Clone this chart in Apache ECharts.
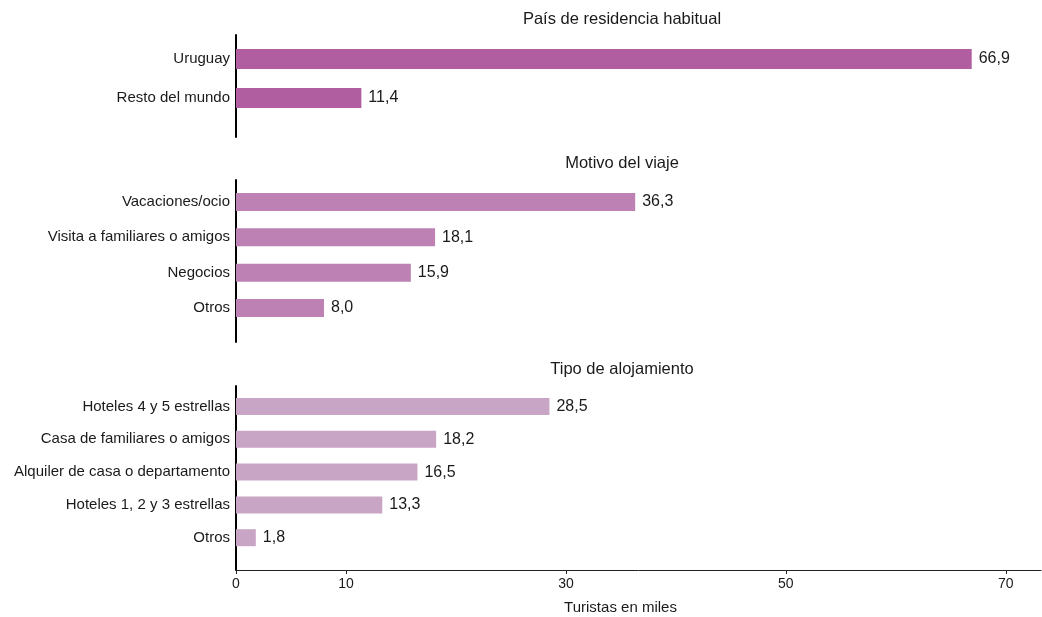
<!DOCTYPE html>
<html>
<head>
<meta charset="utf-8">
<script src="https://cdn.jsdelivr.net/npm/echarts@6/dist/echarts.min.js"></script>
<style>
html,body{margin:0;padding:0;background:#fff;}
#chart{width:1042px;height:617px;}
</style>
</head>
<body>
<div id="chart"></div>
<script>
// ---- Data ----
const titles = ["País de residencia habitual", "Motivo del viaje", "Tipo de alojamiento"];
const catsPais = ["Uruguay", "Resto del mundo"];
const valsPais = [66.9, 11.4];
const catsMotivo = ["Vacaciones/ocio", "Visita a familiares o amigos", "Negocios", "Otros"];
const valsMotivo = [36.3, 18.1, 15.9, 8.0];
const catsAloj = ["Hoteles 4 y 5 estrellas", "Casa de familiares o amigos", "Alquiler de casa o departamento", "Hoteles 1, 2 y 3 estrellas", "Otros"];
const valsAloj = [28.5, 18.2, 16.5, 13.3, 1.8];
const xTicks = [0, 10, 30, 50, 70];
const xName = "Turistas en miles";

// ---- Layout / style ----
const FONT = "'Liberation Sans', Arial, Helvetica, sans-serif";
const TXT = "#1a1a1a";
const LEFT = 236, RIGHT = 1, XMAX = 73.2;
const panels = [
  {cats: catsPais, vals: valsPais, color: "#b05e9f", barW: 20, barTop: 39.5, band: 39, frameTop: 35, frameH: 102, titleTop: 6},
  {cats: catsMotivo, vals: valsMotivo, color: "#bd82b3", barW: 18, barTop: 184.4, band: 35.3, frameTop: 180, frameH: 162, titleTop: 150},
  {cats: catsAloj, vals: valsAloj, color: "#c9a5c5", barW: 17, barTop: 390.1, band: 32.8, frameTop: 386, frameH: 184, titleTop: 356}
];

const grid = [], xAxis = [], yAxis = [], series = [], title = [];
panels.forEach((p, i) => {
  // bar grid
  grid.push({left: LEFT, right: RIGHT, top: p.barTop, height: p.band * p.cats.length});
  title.push({text: titles[i], left: 617, top: p.titleTop, textAlign: 'center',
    textStyle: {fontFamily: FONT, fontSize: 16.5, fontWeight: 'normal', color: TXT}});
});
panels.forEach((p, i) => {
  // frame grid (carries the long vertical axis line)
  grid.push({left: LEFT, right: RIGHT, top: p.frameTop, height: p.frameH});
});
panels.forEach((p, i) => {
  xAxis.push({gridIndex: i, type: 'value', min: 0, max: XMAX, show: false});
  yAxis.push({gridIndex: i, type: 'category', data: p.cats, inverse: true,
    axisLine: {show: false}, axisTick: {show: false}, splitLine: {show: false},
    axisLabel: {margin: 6, fontFamily: FONT, fontSize: 15, color: TXT}});
  series.push({type: 'bar', xAxisIndex: i, yAxisIndex: i, data: p.vals, barWidth: p.barW,
    itemStyle: {color: p.color}, silent: true,
    label: {show: true, position: 'right', distance: 7, fontFamily: FONT, fontSize: 16, color: TXT,
      formatter: d => d.value.toFixed(1).replace('.', ',')}});
});
panels.forEach((p, i) => {
  const last = i === panels.length - 1;
  xAxis.push({gridIndex: 3 + i, type: 'value', min: 0, max: XMAX, show: last,
    splitLine: {show: false},
    axisLine: {show: true, lineStyle: {color: '#222', width: 1}},
    axisTick: {show: true, length: 4, lineStyle: {color: '#222'}, customValues: xTicks},
    axisLabel: {fontFamily: FONT, fontSize: 14, color: TXT, margin: 7, customValues: xTicks},
    name: last ? xName : '', nameLocation: 'middle', nameGap: 30,
    nameTextStyle: {fontFamily: FONT, fontSize: 15, color: TXT, padding: [0, 36, 0, 0]}});
  yAxis.push({gridIndex: 3 + i, type: 'value', min: 0, max: 1,
    axisLine: {show: true, onZero: false, lineStyle: {color: '#000', width: 2}},
    axisTick: {show: false}, axisLabel: {show: false}, splitLine: {show: false}});
});

const chart = echarts.init(document.getElementById('chart'), null, {renderer: 'canvas'});
chart.setOption({backgroundColor: '#fff', animation: false, title, grid, xAxis, yAxis, series});
</script>
</body>
</html>
